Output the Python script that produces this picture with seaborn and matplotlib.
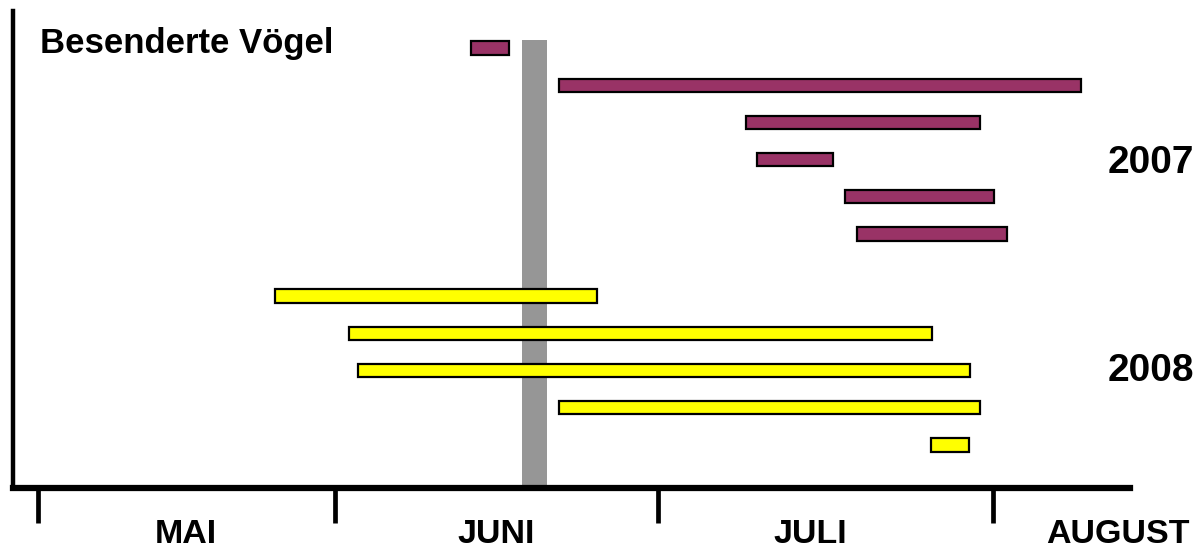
import numpy as np
import pandas as pd
import matplotlib
matplotlib.use("Agg")
import matplotlib.pyplot as plt
import seaborn as sns

# ---- data (days counted from 1 May) ----
year_labels = ["2007", "2008"]
start_2007 = [43.6, 51.8, 69.1, 70.2, 78.3, 79.4]
end_2007 = [47.2, 100.1, 90.8, 77.2, 92.1, 93.3]
start_2008 = [24.7, 32.3, 33.1, 51.8, 86.3]
end_2008 = [55.3, 86.4, 89.9, 90.8, 89.8]
rows_2007 = [0, 1, 2, 3, 4, 5]
rows_2008 = [6.67, 7.67, 8.67, 9.67, 10.67]
band_start, band_end = 48.4, 50.7
month_bounds = [0, 31, 61, 92]
month_names = ["MAI", "JUNI", "JULI", "AUGUST"]
month_label_pos = [15.4, 46.0, 75.1, 103.6]
title = "Besenderte Vögel"

# piecewise scale (month widths in the original are unequal)
bound_pos = np.array([38, 335, 658, 993], dtype=float)
bd = np.array(month_bounds, dtype=float)
left_rate = (bound_pos[1] - bound_pos[0]) / (bd[1] - bd[0])
right_rate = (bound_pos[3] - bound_pos[2]) / (bd[3] - bd[2])

def fwd(d):
    d = np.asarray(d, dtype=float)
    out = np.interp(d, bd, bound_pos)
    out = np.where(d < bd[0], bound_pos[0] + (d - bd[0]) * left_rate, out)
    out = np.where(d > bd[-1], bound_pos[-1] + (d - bd[-1]) * right_rate, out)
    return out

def inv(p):
    p = np.asarray(p, dtype=float)
    out = np.interp(p, bound_pos, bd)
    out = np.where(p < bound_pos[0], bd[0] + (p - bound_pos[0]) / left_rate, out)
    out = np.where(p > bound_pos[-1], bd[-1] + (p - bound_pos[-1]) / right_rate, out)
    return out

df = pd.DataFrame({
    "row": rows_2007 + rows_2008,
    "start": start_2007 + start_2008,
    "end": end_2007 + end_2008,
    "year": [year_labels[0]] * len(rows_2007) + [year_labels[1]] * len(rows_2008),
})
palette = {"2007": "#993366", "2008": "#FFFF00"}

sns.set_style("white")
plt.rcParams["font.family"] = ["Liberation Sans", "DejaVu Sans"]
plt.rcParams["text.color"] = "black"
plt.rcParams["xtick.color"] = "black"

W, H = 1201, 548
fig = plt.figure(figsize=(W / 100, H / 100), dpi=100)
ax = fig.add_axes([13 / W, 1 - 488 / H, (1130 - 13) / W, (488 - 11) / H])
ax.set_xscale("function", functions=(fwd, inv))

# grey vertical band
ax.axvspan(band_start, band_end, ymin=0, ymax=(488 - 40) / (488 - 11),
           color="#969696", lw=0, zorder=1)

for _, r in df.iterrows():
    ax.barh(r["row"], r["end"] - r["start"], left=r["start"], height=0.36,
            color=palette[r["year"]], edgecolor="black", linewidth=1.6, zorder=3)

ax.set_xlim(inv(13), inv(1130))
ax.set_ylim(11.83, -0.995)

for s in ["top", "right"]:
    ax.spines[s].set_visible(False)
ax.spines["left"].set_linewidth(3.2)
ax.spines["bottom"].set_linewidth(4.5)
ax.spines["left"].set_color("black")
ax.spines["bottom"].set_color("black")

ax.set_yticks([])
ax.set_xticks(month_bounds)
ax.set_xticklabels([])
ax.tick_params(axis="x", which="major", direction="out", length=25, width=3.4,
               color="black", bottom=True)
ax.set_xticks(month_label_pos, minor=True)
ax.set_xticklabels(month_names, minor=True, fontsize=24.5, fontweight="bold",
                   color="black")
ax.tick_params(axis="x", which="minor", length=0, pad=22)

fig.text(40 / W, 1 - 44 / H, title, fontsize=25, fontweight="bold",
         ha="left", va="center", color="black")
fig.text(1108 / W, 1 - 163 / H, year_labels[0], fontsize=28, fontweight="bold",
         ha="left", va="center", color="black")
fig.text(1108 / W, 1 - 371 / H, year_labels[1], fontsize=28, fontweight="bold",
         ha="left", va="center", color="black")

fig.savefig("out.png", dpi=100)
